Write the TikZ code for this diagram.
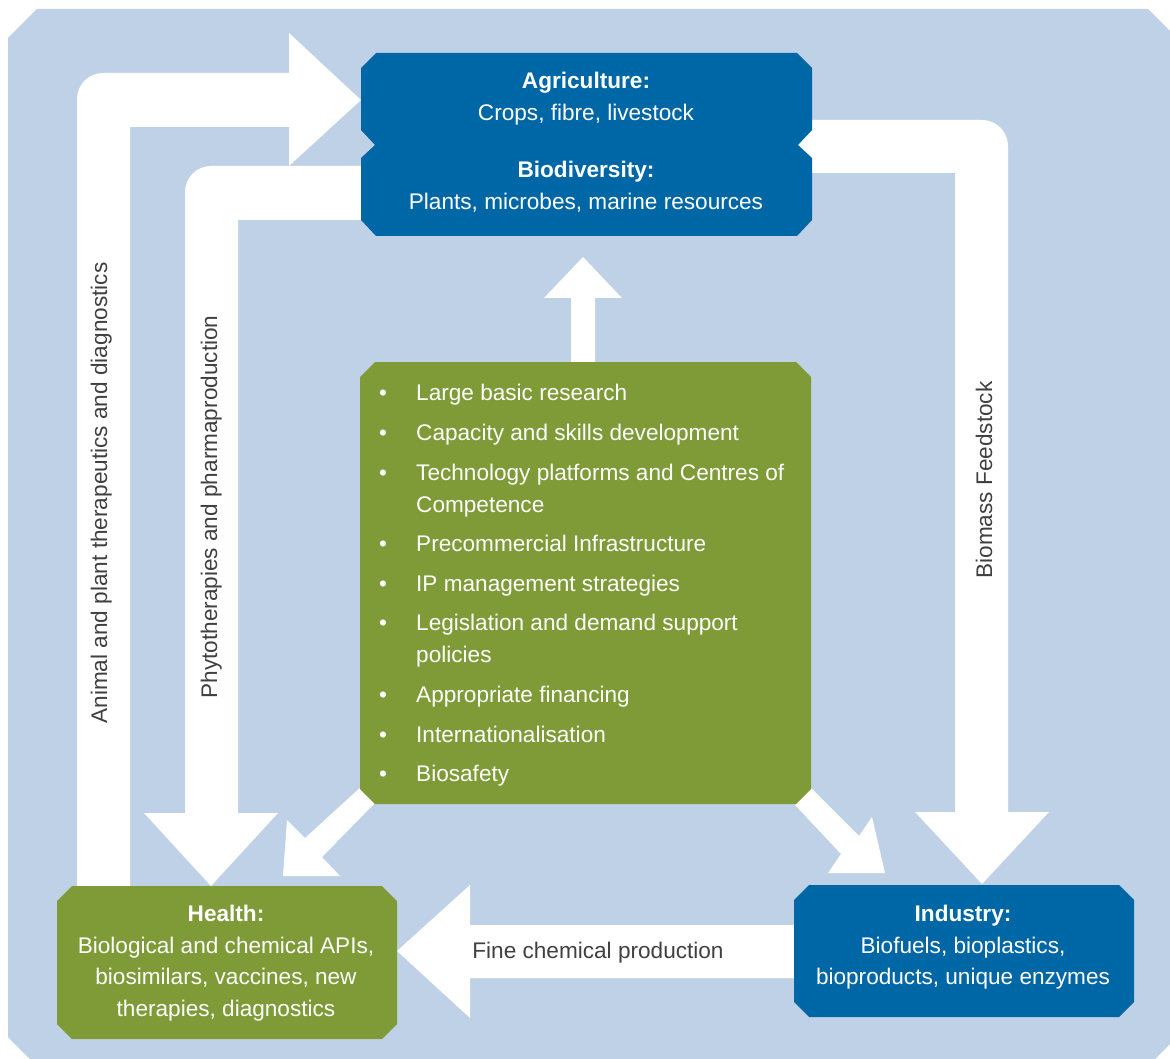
\documentclass[tikz,border=0pt]{standalone}
\usepackage{fontspec}
\setmainfont{Liberation Sans}
\definecolor{bgblue}{HTML}{BFD1E6}
\definecolor{dblue}{HTML}{0067A6}
\definecolor{lgreen}{HTML}{7E9B37}
\definecolor{lblgray}{HTML}{404040}
\begin{document}
\begin{tikzpicture}[x=1pt,y=-1pt,
  arrowfill/.style={fill=white},
  bluebox/.style={fill=dblue},
  greenbox/.style={fill=lgreen},
  boxtxt/.style={text=white,anchor=base,inner sep=0pt,font=\fontsize{22.6}{32}\selectfont},
  listtxt/.style={text=white,anchor=base west,inner sep=0pt,font=\fontsize{22.6}{32}\selectfont},
  arrtxt/.style={text=lblgray,anchor=base,inner sep=0pt,font=\fontsize{22.6}{32}\selectfont}]
\useasboundingbox (0,0) rectangle (1170,1059);
% background
\begin{scope}
\clip (0,0) rectangle (1170,1059);
\fill[bgblue] (37,9) -- (1148,9) -- (1177,38) -- (1177,1037) -- (1148,1066) -- (37,1066) -- (8,1037) -- (8,38) -- cycle;
\end{scope}
% arrows
\fill[arrowfill] (77,886) -- (77,99) .. controls (77,84.6) and (88.6,73) .. (103,73) -- (289,73) -- (289,33) -- (361,100) -- (289,166) -- (289,127) -- (130,127) -- (130,886) -- cycle;
\fill[arrowfill] (366,166) -- (211,166) .. controls (196.6,166) and (185,177.6) .. (185,192) -- (185,813) -- (144,813) -- (211,886) -- (278,813) -- (238,813) -- (238,220) -- (366,220) -- cycle;
\fill[arrowfill] (798,120) -- (982,120) .. controls (996.4,120) and (1008,131.6) .. (1008,146) -- (1008,812) -- (1049,812) -- (982,884) -- (915,812) -- (955,812) -- (955,173) -- (798,173) -- cycle;
\fill[arrowfill] (798,925) -- (470,925) -- (470,885) -- (397,951) -- (470,1018) -- (470,978) -- (798,978) -- cycle;
\fill[arrowfill] (571,366) -- (571,298) -- (544,298) -- (583,257) -- (622,298) -- (595,298) -- (595,366) -- cycle;
\fill[arrowfill] (362,786) -- (305,838) -- (287,820) -- (283,876) -- (340,876) -- (322,857) -- (377,801) -- cycle;
\fill[arrowfill] (810,787) -- (859,836) -- (872,817) -- (885,873) -- (828,873) -- (841,854) -- (795,805) -- cycle;
% boxes
\fill[bluebox] (376,53) -- (797,53) -- (812,68) -- (812,130) -- (798,145) -- (812,158) -- (812,220) -- (797,236) -- (376,236) -- (361,220) -- (361,158) -- (375,145) -- (361,130) -- (361,68) -- cycle;
\fill[greenbox] (375,362) -- (796,362) -- (811,377) -- (811,789) -- (796,804) -- (375,804) -- (360,789) -- (360,377) -- cycle;
\fill[greenbox] (72,886) -- (382,886) -- (397,901) -- (397,1024) -- (382,1039) -- (72,1039) -- (57,1024) -- (57,901) -- cycle;
\fill[bluebox] (809,885) -- (1119,885) -- (1134,900) -- (1134,1002) -- (1119,1017) -- (809,1017) -- (794,1002) -- (794,900) -- cycle;
% box texts
\node[boxtxt] (agrihead) at (586,89) {\bfseries Agriculture:};
\node[boxtxt] (agritext) at (586,121) {Crops, fibre, livestock};
\node[boxtxt] (biohead) at (586,178) {\bfseries Biodiversity:};
\node[boxtxt] (biotext) at (586,210) {Plants, microbes, marine resources};
\node[boxtxt] (healthhead) at (226,921) {\bfseries Health:};
\node[boxtxt] (health1) at (226,953) {Biological and chemical APIs,};
\node[boxtxt] (health2) at (226,984) {biosimilars, vaccines, new};
\node[boxtxt] (health3) at (226,1016) {therapies, diagnostics};
\node[boxtxt] (indhead) at (963,921) {\bfseries Industry:};
\node[boxtxt] (ind1) at (963,953) {Biofuels, bioplastics,};
\node[boxtxt] (ind2) at (963,984) {bioproducts, unique enzymes};
% list
\foreach \y/\nm in {400/b1,440/b2,480/b3,551/b4,591/b5,630/b6,702/b7,742/b8,781/b9}
  \node[listtxt] (\nm) at (379,\y) {•};
\node[listtxt] (l1) at (416,400) {Large basic research};
\node[listtxt] (l2) at (416,440) {Capacity and skills development};
\node[listtxt] (l3) at (416,480) {Technology platforms and Centres of};
\node[listtxt] (l3b) at (416,512) {Competence};
\node[listtxt] (l4) at (416,551) {Precommercial Infrastructure};
\node[listtxt] (l5) at (416,591) {IP management strategies};
\node[listtxt] (l6) at (416,630) {Legislation and demand support};
\node[listtxt] (l6b) at (416,662) {policies};
\node[listtxt] (l7) at (416,702) {Appropriate financing};
\node[listtxt] (l8) at (416,742) {Internationalisation};
\node[listtxt] (l9) at (416,781) {Biosafety};
% arrow labels
\node[arrtxt,rotate=90] (lab1) at (107,493) {Animal and plant therapeutics and diagnostics};
\node[arrtxt,rotate=90] (lab2) at (217,507) {Phytotherapies and pharmaproduction};
\node[arrtxt,rotate=90] (lab3) at (992,480) {Biomass Feedstock};
\node[arrtxt] (lab4) at (598,958) {Fine chemical production};
\end{tikzpicture}
\end{document}
